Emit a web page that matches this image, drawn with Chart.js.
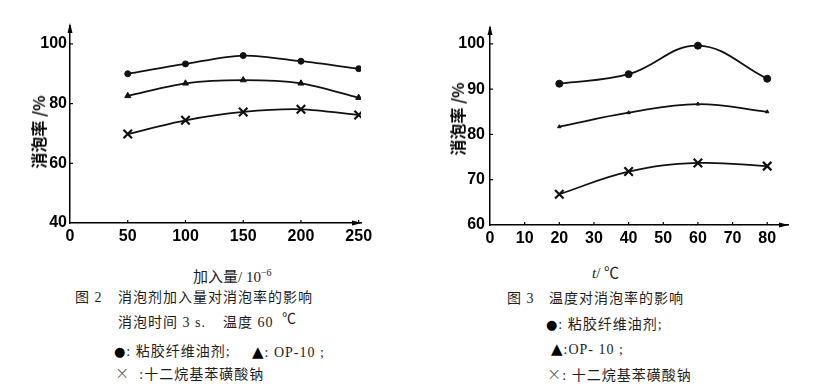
<!DOCTYPE html>
<html>
<head>
<meta charset="utf-8">
<script src="https://cdn.jsdelivr.net/npm/chart.js@4"></script>
<style>
  body { margin: 0; background: #fff; width: 828px; height: 392px; position: relative; overflow: hidden;
         font-family: "Liberation Serif", "Noto Sans CJK SC", serif; color: #1c1c1c; }
  canvas { position: absolute; top: 0; }
  .t { position: absolute; white-space: pre; font-size: 14px; line-height: 18px; letter-spacing: 1px; }
  .yt { position: absolute; white-space: pre; font-family: "Noto Sans CJK SC", sans-serif; font-size: 16px;
        font-weight: bold; color: #000; transform: translate(-50%, -50%) rotate(-90deg); }
  .xt { position: absolute; white-space: pre; font-size: 15px; line-height: 18px; }
  sup { font-size: 10px; vertical-align: 6px; }
  .dot { font-family: "DejaVu Sans", sans-serif; font-size: 13px; color: #000; }
  .tri { font-family: "DejaVu Sans", sans-serif; font-size: 15px; color: #000; }
  .mul { font-family: "DejaVu Sans", sans-serif; font-size: 17px; font-weight: 200; color: #555; }
</style>
</head>
<body>
<canvas id="dose" style="left:0" width="400" height="250"></canvas>
<canvas id="temp" style="left:420px" width="408" height="250"></canvas>

<div class="yt" style="left:38px;top:132px">消泡率 /%</div>
<div class="yt" style="left:457px;top:119px">消泡率 /%</div>
<div class="xt" style="left:193px;top:264px">加入量/ 10<sup>−6</sup></div>
<div class="xt" style="left:592px;top:264px"><i>t</i>/ ℃</div>

<div class="t" style="left:75px;top:289px">图 2</div>
<div class="t" style="left:118px;top:289px">消泡剂加入量对消泡率的影响</div>
<div class="t" style="left:118px;top:314px">消泡时间 3 s.</div>
<div class="t" style="left:223px;top:314px">温度 60</div>
<div class="t" style="left:282px;top:310px">℃</div>
<div class="t" style="left:114px;top:343px"><span class="dot">●</span>: 粘胶纤维油剂;</div>
<div class="t" style="left:252px;top:343px"><span class="tri">▲</span>: OP-10 ;</div>
<div class="t" style="left:115px;top:364px"><span class="mul">×</span>  :十二烷基苯磺酸钠</div>

<div class="t" style="left:507px;top:290px">图 3</div>
<div class="t" style="left:549px;top:290px">温度对消泡率的影响</div>
<div class="t" style="left:546px;top:316px"><span class="dot">●</span>: 粘胶纤维油剂;</div>
<div class="t" style="left:551px;top:340px"><span class="tri">▲</span>:OP- 10 ;</div>
<div class="t" style="left:547px;top:365px"><span class="mul">×</span>: 十二烷基苯磺酸钠</div>

<script>
// figure 2: dosage (10^-6) vs defoaming rate (%)
const doseX = [50, 100, 150, 200, 250];
const doseViscose = [90.0, 93.3, 96.1, 94.2, 91.7];
const doseOP10 = [82.6, 86.8, 87.9, 86.8, 82.0];
const doseSDBS = [69.8, 74.4, 77.2, 78.1, 76.2];
const doseXTicks = [0, 50, 100, 150, 200, 250];
const doseYTicks = [40, 60, 80, 100];

// figure 3: temperature (℃) vs defoaming rate (%)
const tempX = [20, 40, 60, 80];
const tempViscose = [91.2, 93.3, 99.6, 92.3];
const tempOP10 = [81.7, 84.8, 86.7, 85.0];
const tempSDBS = [66.8, 71.8, 73.7, 73.0];
const tempXTicks = [0, 10, 20, 30, 40, 50, 60, 70, 80];
const tempYTicks = [60, 70, 80, 90, 100];

const tickFont = { family: "'Liberation Sans', Arial, sans-serif", size: 16, weight: 'bold' };

// arrow heads at the axis ends + short inward tick marks
const axisArrows = {
  id: 'axisArrows',
  afterDraw(chart) {
    const { ctx, chartArea: { left, right, top, bottom }, scales: { x, y } } = chart;
    ctx.save();
    ctx.fillStyle = '#000';
    ctx.strokeStyle = '#000';
    ctx.lineWidth = 1.2;
    x.ticks.forEach(t => {
      if (t.value === x.min) return;
      const px = x.getPixelForValue(t.value);
      ctx.beginPath(); ctx.moveTo(px, bottom); ctx.lineTo(px, bottom - 3); ctx.stroke();
    });
    y.ticks.forEach(t => {
      if (t.value === y.min) return;
      const py = y.getPixelForValue(t.value);
      ctx.beginPath(); ctx.moveTo(left, py); ctx.lineTo(left + 3, py); ctx.stroke();
    });
    ctx.beginPath();
    ctx.moveTo(left, top - 3); ctx.lineTo(left - 2.5, top + 7); ctx.lineTo(left + 2.5, top + 7);
    ctx.closePath(); ctx.fill();
    ctx.beginPath();
    ctx.moveTo(right + 1, bottom); ctx.lineTo(right - 9, bottom - 2.5); ctx.lineTo(right - 9, bottom + 2.5);
    ctx.closePath(); ctx.fill();
    ctx.restore();
  }
};

function pts(xs, ys) {
  return xs.map((v, i) => ({ x: v, y: ys[i] }));
}

function series(xs, ys, style, radius, tension) {
  return {
    data: pts(xs, ys),
    borderColor: '#111',
    borderWidth: 1.8,
    pointStyle: style,
    pointRadius: radius,
    pointBackgroundColor: '#111',
    pointBorderColor: '#111',
    pointBorderWidth: style === 'crossRot' ? 2.2 : 1,
    tension: tension
  };
}

function makeChart(id, cfg) {
  return new Chart(document.getElementById(id), {
    type: 'line',
    data: { datasets: cfg.datasets },
    options: {
      responsive: false,
      animation: false,
      layout: { padding: { left: 0, right: cfg.padRight, top: cfg.padTop, bottom: 0 } },
      plugins: { legend: { display: false }, tooltip: { enabled: false } },
      scales: {
        x: {
          type: 'linear', min: cfg.xMin, max: cfg.xMax,
          grid: { display: false, drawTicks: false },
          border: { color: '#000', width: 1.5 },
          ticks: { color: '#000', font: tickFont, padding: 4, autoSkip: false, maxRotation: 0 },
          afterBuildTicks: s => { s.ticks = cfg.xTicks.map(v => ({ value: v })); },
          afterFit: s => { s.height = cfg.xHeight; }
        },
        y: {
          min: cfg.yMin, max: cfg.yMax,
          grid: { display: false, drawTicks: false },
          border: { color: '#000', width: 1.5 },
          ticks: { color: '#000', font: tickFont, padding: cfg.yPad },
          afterBuildTicks: s => { s.ticks = cfg.yTicks.map(v => ({ value: v })); },
          afterFit: s => { s.width = 70; }
        }
      }
    },
    plugins: [axisArrows]
  });
}

makeChart('dose', {
  datasets: [
    series(doseX, doseViscose, 'circle', 3, 0.3),
    series(doseX, doseOP10, 'triangle', 3.5, 0.3),
    series(doseX, doseSDBS, 'crossRot', 6, 0.3)
  ],
  xMin: 0, xMax: 252, xTicks: doseXTicks,
  yMin: 40, yMax: 106, yTicks: doseYTicks,
  padRight: 39, padTop: 26, xHeight: 27, yPad: 3
});

makeChart('temp', {
  datasets: [
    series(tempX, tempViscose, 'circle', 3.5, 0.4),
    series(tempX, tempOP10, 'triangle', 2, 0.4),
    series(tempX, tempSDBS, 'crossRot', 6, 0.4)
  ],
  xMin: 0, xMax: 86, xTicks: tempXTicks,
  yMin: 60, yMax: 103.5, yTicks: tempYTicks,
  padRight: 40, padTop: 28, xHeight: 25, yPad: 5
});
</script>
</body>
</html>
